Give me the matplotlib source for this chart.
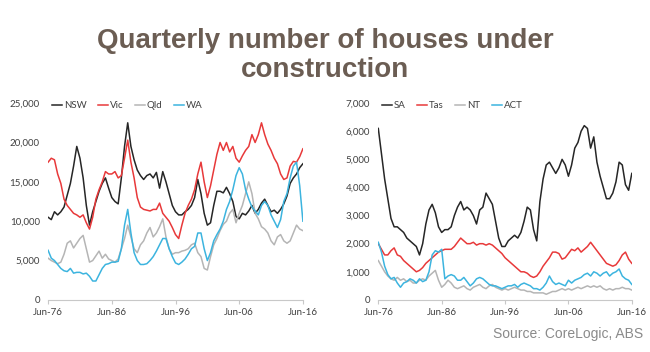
import matplotlib
matplotlib.use("Agg")
import matplotlib.pyplot as plt
from matplotlib.ticker import FuncFormatter
import numpy as np

# half-yearly readings, Jun-76 .. Jun-16 (thousands)
tick_labels = ["Jun-76", "Jun-86", "Jun-96", "Jun-06", "Jun-16"]

nsw = [10.5, 10.2, 11.2, 10.8, 11.2, 11.8, 13.3, 14.8, 17.0, 19.5,
       18.0, 15.5, 12.0, 9.5, 11.2, 12.5, 13.8, 14.8, 15.5, 14.2,
       13.0, 12.5, 12.2, 15.5, 19.5, 22.5, 19.5, 17.8, 16.5, 15.8,
       15.3, 15.8, 16.0, 15.5, 16.2, 14.2, 16.3, 15.0, 13.5, 12.0,
       11.2, 10.8, 10.8, 11.2, 11.5, 12.0, 13.0, 15.3, 13.5, 11.0,
       9.5, 9.8, 12.0, 13.8, 13.8, 13.6, 14.3, 13.5, 12.5, 10.6,
       10.3, 11.0, 10.8, 11.3, 12.0, 11.0, 11.5, 12.3, 12.8, 12.0,
       11.2, 11.4, 11.0, 11.5, 12.2, 13.2, 14.8, 15.5, 16.0, 16.8,
       17.3]
vic = [17.5, 18.0, 17.8, 16.0, 14.8, 12.8, 12.0, 11.5, 11.0, 10.8,
       10.5, 10.8, 9.8, 9.0, 10.5, 12.8, 14.0, 15.0, 16.3, 16.0,
       16.0, 16.3, 15.5, 15.8, 18.0, 20.3, 17.5, 15.5, 13.0, 11.8,
       11.5, 11.4, 11.3, 11.5, 11.5, 12.3, 11.0, 10.5, 10.0, 9.2,
       8.3, 7.8, 9.5, 11.0, 12.0, 12.8, 14.0, 16.0, 17.5, 15.0,
       13.0, 14.5, 16.5, 18.5, 20.0, 19.0, 20.0, 18.8, 19.5, 18.0,
       17.5, 18.3, 19.0, 19.5, 21.0, 20.0, 21.0, 22.5, 21.0, 19.8,
       19.0, 18.0, 17.3, 16.0, 15.3, 15.5, 17.0, 17.6, 17.5, 18.2,
       19.2]
qld = [5.3, 5.0, 4.8, 4.6, 4.8, 5.8, 7.2, 7.5, 6.6, 7.2,
       7.8, 8.2, 6.5, 4.8, 5.0, 5.6, 6.2, 5.3, 5.8, 5.2,
       5.0, 4.8, 5.2, 6.5, 7.8, 9.5, 8.0, 6.5, 6.0, 7.0,
       7.5, 8.5, 9.2, 8.0, 8.5, 9.3, 10.3, 8.0, 6.5, 5.8,
       6.0, 6.0, 6.2, 6.3, 6.5, 7.0, 7.2, 6.0, 5.5, 4.0,
       3.8, 5.5, 7.0, 7.8, 8.8, 9.6, 10.0, 11.0, 11.5, 9.8,
       11.0, 12.0, 13.5, 15.0, 13.5, 11.0, 10.3, 9.3, 9.0, 8.5,
       7.5, 7.0, 8.0, 8.3, 7.5, 7.2, 7.5, 8.5, 9.5, 9.0,
       8.8]
wa = [6.3, 5.3, 5.0, 4.5, 4.0, 3.7, 3.6, 4.0, 3.4, 3.5,
      3.5, 3.3, 3.4, 3.0, 2.4, 2.4, 3.2, 4.0, 4.5, 4.6,
      4.8, 4.8, 4.9, 6.5, 9.5, 11.5, 8.5, 6.0, 5.0, 4.5,
      4.5, 4.6, 5.0, 5.5, 6.2, 7.0, 7.8, 7.8, 6.5, 5.5,
      4.7, 4.5, 4.8, 5.2, 5.8, 6.5, 6.8, 8.5, 8.5, 6.5,
      5.0, 6.0, 7.5, 8.3, 9.0, 10.0, 11.5, 12.5, 14.0, 15.8,
      16.8, 16.0, 14.0, 12.8, 11.8, 11.3, 10.8, 12.0, 12.5, 12.0,
      10.8, 10.0, 9.2, 10.2, 12.5, 13.5, 15.5, 17.0, 17.5, 14.5,
      10.0]

sa = [6.1, 5.2, 4.3, 3.6, 2.9, 2.6, 2.6, 2.5, 2.4, 2.2,
      2.1, 2.0, 1.9, 1.6, 2.0, 2.7, 3.2, 3.4, 3.1, 2.6,
      2.4, 2.5, 2.5, 2.6, 3.0, 3.3, 3.5, 3.2, 3.3, 3.2,
      3.0, 2.7, 3.2, 3.3, 3.8, 3.6, 3.4, 2.8, 2.2, 1.9,
      1.9, 2.1, 2.2, 2.3, 2.2, 2.4, 2.8, 3.3, 3.2, 2.5,
      2.1, 3.5, 4.3, 4.8, 4.9, 4.7, 4.5, 4.7, 5.0, 4.8,
      4.4, 4.8, 5.4, 5.6, 6.0, 6.2, 6.1, 5.4, 5.8, 4.9,
      4.4, 4.0, 3.6, 3.6, 3.8, 4.2, 4.9, 4.8, 4.1, 3.9,
      4.5]
tas = [2.0, 1.8, 1.6, 1.6, 1.75, 1.85, 1.6, 1.55, 1.4, 1.3,
       1.2, 1.1, 1.0, 1.05, 1.15, 1.3, 1.4, 1.5, 1.6, 1.7,
       1.75, 1.8, 1.8, 1.8, 1.9, 2.05, 2.2, 2.1, 2.0, 2.0,
       2.05, 1.95, 2.0, 2.0, 1.95, 2.0, 1.95, 1.85, 1.75, 1.65,
       1.5, 1.4, 1.3, 1.2, 1.1, 1.0, 1.0, 0.95, 0.85, 0.8,
       0.85, 1.0, 1.2, 1.35, 1.5, 1.7, 1.7, 1.65, 1.45, 1.5,
       1.65, 1.8, 1.75, 1.85, 1.7, 1.8, 1.9, 2.05, 1.9, 1.75,
       1.6, 1.45, 1.3, 1.25, 1.2, 1.25, 1.4, 1.6, 1.7, 1.45,
       1.3]
nt = [1.4, 1.2, 1.0, 0.85, 0.75, 0.7, 0.8, 0.7, 0.75, 0.65,
      0.7, 0.6, 0.6, 0.7, 0.75, 0.7, 0.85, 0.95, 1.05, 0.7,
      0.45, 0.55, 0.7, 0.6, 0.45, 0.4, 0.45, 0.5, 0.4, 0.35,
      0.45, 0.5, 0.55, 0.45, 0.4, 0.5, 0.55, 0.45, 0.4, 0.35,
      0.4, 0.35, 0.4, 0.45, 0.4, 0.35, 0.35, 0.3, 0.3, 0.25,
      0.25, 0.25, 0.25, 0.2, 0.25, 0.3, 0.3, 0.35, 0.4, 0.35,
      0.4, 0.35, 0.4, 0.45, 0.4, 0.45, 0.5, 0.45, 0.5, 0.45,
      0.5, 0.4, 0.35, 0.4, 0.35, 0.4, 0.4, 0.45, 0.4, 0.4,
      0.35]
act = [2.05, 1.7, 1.2, 0.9, 0.75, 0.8, 0.6, 0.45, 0.6, 0.65,
       0.75, 0.7, 0.6, 0.75, 0.65, 0.7, 1.0, 1.6, 1.75, 1.7,
       1.8, 0.75, 0.85, 0.9, 0.85, 0.7, 0.7, 0.8, 0.65, 0.5,
       0.6, 0.75, 0.8, 0.75, 0.65, 0.55, 0.5, 0.5, 0.45, 0.4,
       0.45, 0.5, 0.5, 0.55, 0.45, 0.55, 0.6, 0.55, 0.5, 0.4,
       0.4, 0.35, 0.45, 0.6, 0.85, 0.65, 0.55, 0.6, 0.55, 0.5,
       0.7, 0.6, 0.7, 0.75, 0.8, 0.9, 0.95, 0.85, 1.0, 0.95,
       0.85, 0.95, 1.0, 0.85, 0.95, 1.0, 1.1, 0.85, 0.75, 0.7,
       0.55]

for s in (nsw, vic, qld, wa, sa, tas, nt, act):
    assert len(s) == 81, len(s)

x = np.arange(81)

plt.rcParams['font.family'] = ['Lato', 'DejaVu Sans']

fig = plt.figure(figsize=(6.5, 3.52), dpi=100)
fig.patch.set_facecolor("white")

fig.text(0.5, 0.843, "Quarterly number of houses under\nconstruction",
         ha="center", va="center", fontsize=20, fontweight="bold",
         color="#6b5d53", family=["Liberation Sans"], linespacing=1.15)
fig.text(0.99, 0.05, "Source: CoreLogic, ABS", ha="right", va="center",
         fontsize=10, color="#8a8a8a", family=["Liberation Sans"])

black = "#262626"
red = "#e8393a"
grey = "#b5b5b5"
blue = "#3cb4df"


def style(ax, ymax, step):
    for s in ("top", "right", "left"):
        ax.spines[s].set_visible(False)
    ax.spines["bottom"].set_color("#c8c8c8")
    ax.set_xlim(0, 80)
    ax.set_ylim(0, ymax)
    ax.set_yticks(np.arange(0, ymax + 1, step))
    ax.yaxis.set_major_formatter(FuncFormatter(lambda v, p: f"{int(v):,}"))
    ax.set_xticks([0, 20, 40, 60, 80])
    ax.set_xticklabels(tick_labels)
    ax.tick_params(axis="y", length=0, labelsize=7, labelcolor="#404040", pad=6)
    ax.tick_params(axis="x", length=3, color="#c8c8c8", labelsize=7,
                   labelcolor="#404040", pad=3)
    leg = ax.legend(loc="upper left", ncol=4, frameon=False, fontsize=7,
                    handlelength=1.0, handletextpad=0.2, columnspacing=1.2,
                    bbox_to_anchor=(0.0, 1.03), borderaxespad=0)
    for t in leg.get_texts():
        t.set_color("#404040")


ax1 = fig.add_axes([0.074, 0.148, 0.392, 0.559])
ax1.plot(x, np.array(nsw) * 1000, color=black, lw=1.1, label="NSW")
ax1.plot(x, np.array(vic) * 1000, color=red, lw=1.1, label="Vic")
ax1.plot(x, np.array(qld) * 1000, color=grey, lw=1.1, label="Qld")
ax1.plot(x, np.array(wa) * 1000, color=blue, lw=1.1, label="WA")
style(ax1, 25000, 5000)

ax2 = fig.add_axes([0.582, 0.148, 0.39, 0.559])
ax2.plot(x, np.array(sa) * 1000, color=black, lw=1.1, label="SA")
ax2.plot(x, np.array(tas) * 1000, color=red, lw=1.1, label="Tas")
ax2.plot(x, np.array(nt) * 1000, color=grey, lw=1.1, label="NT")
ax2.plot(x, np.array(act) * 1000, color=blue, lw=1.1, label="ACT")
style(ax2, 7000, 1000)

fig.savefig("out.png", dpi=100)
